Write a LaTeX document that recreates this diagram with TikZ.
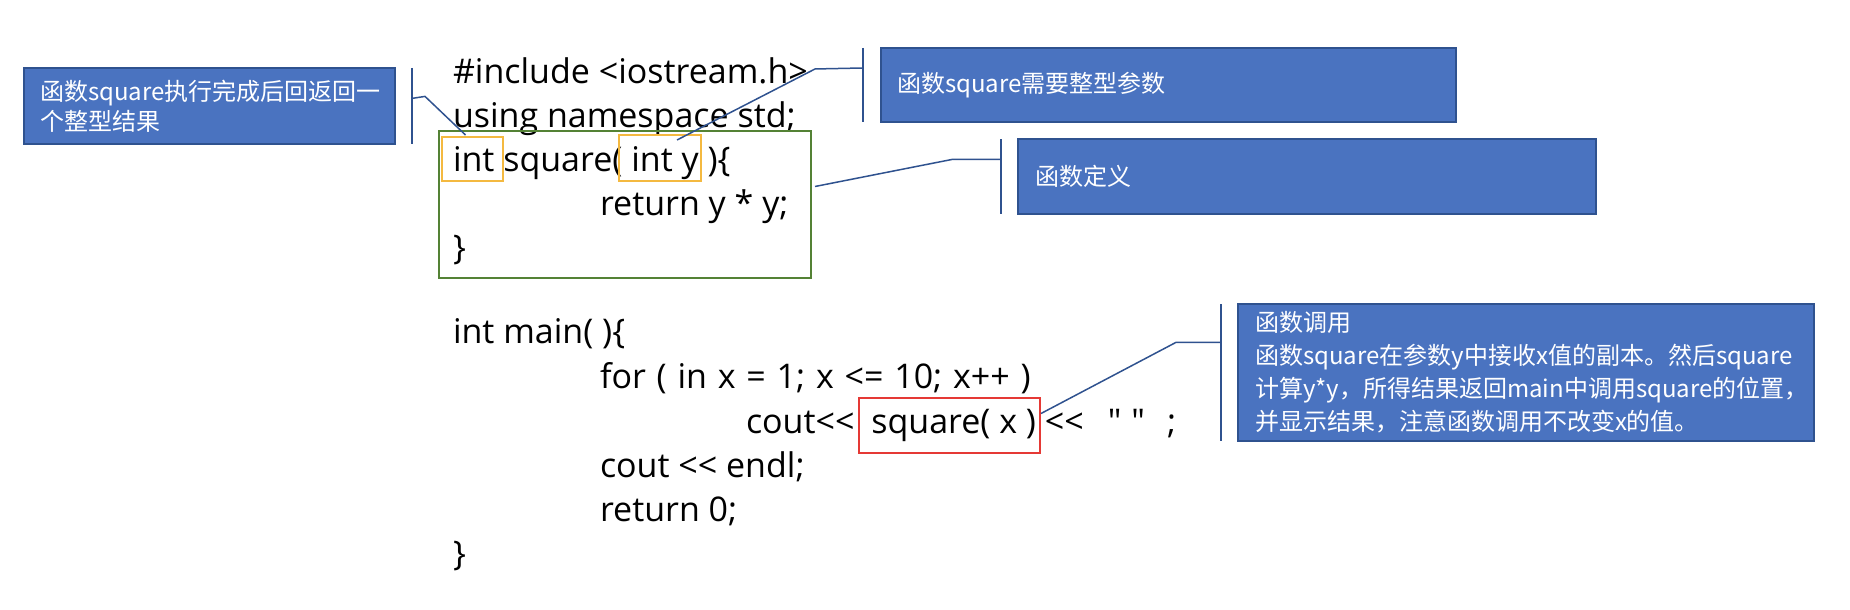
\documentclass[tikz,border=0pt]{standalone}
\usepackage{fontspec}
\newfontfamily\cjk{Noto Sans CJK SC}
\newfontfamily\codefont{Open Sans}
\usetikzlibrary{positioning, calc}
\definecolor{notefill}{HTML}{4A73C0}
\definecolor{noteline}{HTML}{2F528F}
\definecolor{defgreen}{HTML}{548235}
\definecolor{hlyellow}{HTML}{F4B940}
\definecolor{callred}{HTML}{E53935}

\begin{document}
\begin{tikzpicture}[
    x=1pt, y=-1pt,
    every node/.style={inner sep=0pt, outer sep=0pt},
    code/.style={anchor=base west, font=\codefont\fontsize{34}{40}\selectfont},
    note/.style={draw=noteline, fill=notefill, line width=2pt, text=white,
                 anchor=north west, align=left, inner xsep=16pt, inner ysep=0pt},
    hlbox/.style={line width=2.5pt},
    accent/.style={draw=noteline, line width=2pt},
    leader/.style={draw=noteline, line width=1.5pt},
]
\useasboundingbox (0,0) rectangle (1850,610);
% function definition part
\node[code] (inc)  at (453,83)  {\#include <iostream.h>};
\node[code] (uses) at (453,127) {using namespace std;};
\node[code] (head) at (453,171) {int square( int y )\{};
\node[code] (body) at (600,215) {return y * y;};
\node[code] (fend) at (453,259) {\}};
% main part
\node[code] (mhead) at (453,343) {int main( )\{};
\node[code] (loop)  at (600,388) {\spaceskip=10.8pt for ( in x = 1; x <= 10; x++ )};
\node[code] (out)   at (746,433) {cout<<\hspace{8pt} square( x ) <<\hspace{24pt}"\hspace{10pt}"\hspace{22pt};};
\node[code] (endl)  at (600,477) {cout << endl;};
\node[code] (ret)   at (600,521) {return 0;};
\node[code] (mend)  at (453,565) {\}};
% highlight boxes
\node[hlbox, draw=defgreen, minimum width=372pt, minimum height=147pt] (defbox) at (625,204.5) {};
\node[hlbox, draw=hlyellow, minimum width=61pt, minimum height=44pt] (rettype) at (472.5,159) {};
\node[hlbox, draw=hlyellow, minimum width=82pt, minimum height=46pt] (partype) at (660,158) {};
\node[hlbox, draw=callred, minimum width=181pt, minimum height=55pt] (callbox) at (949.5,425.5) {};
% callout notes
\node[note, text width=339pt, minimum height=76pt, font=\cjk\fontsize{24}{30}\selectfont]
   (retnote) at (24,68) {函数square执行完成后回返回一\\个整型结果};
\node[note, text width=543pt, minimum height=74pt, font=\cjk\fontsize{24}{30}\selectfont]
   (parnote) at (881,48) {函数square需要整型参数};
\node[note, inner xsep=17pt, text width=544pt, minimum height=75pt, font=\cjk\fontsize{24}{33}\selectfont]
   (defnote) at (1018,139) {函数定义};
\node[note, inner xsep=17pt, text width=542pt, minimum height=137pt, font=\cjk\fontsize{24}{33}\selectfont]
   (callnote) at (1238,304) {函数调用\\函数square在参数y中接收x值的副本。然后square\\计算y*y，所得结果返回main中调用square的位置，\\并显示结果，注意函数调用不改变x的值。};
% accent bars beside the notes
\draw[accent] ([xshift=17pt]retnote.north east) -- ([xshift=17pt]retnote.south east);
\draw[accent] ([xshift=-18pt]parnote.north west) -- ([xshift=-18pt]parnote.south west);
\draw[accent] ([xshift=-17pt]defnote.north west) -- ([xshift=-17pt]defnote.south west);
\draw[accent] ([xshift=-17pt]callnote.north west) -- ([xshift=-17pt]callnote.south west);
% leader lines
\coordinate (retjoin) at ($([xshift=17pt]retnote.north east)!0.4!([xshift=17pt]retnote.south east)$);
\coordinate (parjoin) at ($([xshift=-18pt]parnote.north west)!0.27!([xshift=-18pt]parnote.south west)$);
\coordinate (defjoin) at ($([xshift=-17pt]defnote.north west)!0.27!([xshift=-17pt]defnote.south west)$);
\coordinate (calljoin) at ($([xshift=-17pt]callnote.north west)!0.28!([xshift=-17pt]callnote.south west)$);
\coordinate (rettip) at ([xshift=-7pt,yshift=2pt]rettype.north);
\coordinate (partip) at ([xshift=17pt,yshift=-5pt]partype.north);
\coordinate (deftip) at ([xshift=4pt,yshift=18pt]defbox.east);
\coordinate (calltip) at ([xshift=1pt,yshift=12pt]callbox.east);
\draw[leader] (retjoin) -- ++(13,-2) -- (rettip);
\draw[leader] (parjoin) -- ++(-48,1) -- (partip);
\draw[leader] (defjoin) -- ++(-48,0) -- (deftip);
\draw[leader] (calljoin) -- ++(-45,0) -- (calltip);
\end{tikzpicture}
\end{document}
